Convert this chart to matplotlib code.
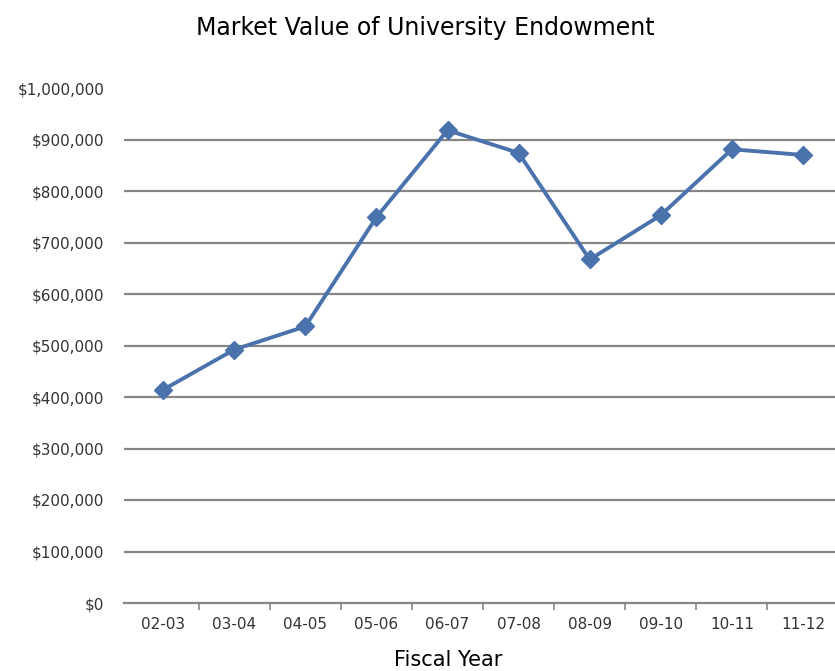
import matplotlib.pyplot as plt
from matplotlib.ticker import FuncFormatter

years = ["02-03", "03-04", "04-05", "05-06", "06-07",
         "07-08", "08-09", "09-10", "10-11", "11-12"]
market_value = [414000, 492000, 537000, 749000, 918000,
                874000, 667000, 753000, 881000, 870000]
y_ticks = list(range(0, 1000001, 100000))

W, H = 835, 671
fig = plt.figure(figsize=(W / 100, H / 100), dpi=100)
ax = fig.add_axes([124 / W, (H - 603) / H, (W - 124) / W, (603 - 88) / H])

for v in y_ticks[1:-1]:
    ax.axhline(v, color="#868686", lw=1.6, zorder=1)

x = list(range(len(years)))
ax.plot(x, market_value, color="#4a72ad", lw=2.8, marker="D", markersize=9.5,
        markerfacecolor="#4a72ad", markeredgecolor="#4a72ad", zorder=3)

ax.set_xlim(-0.55, 9.45)
ax.set_ylim(0, 1000000)
ax.set_yticks(y_ticks)
ax.yaxis.set_major_formatter(FuncFormatter(lambda v, p: f"${v:,.0f}"))
ax.set_xticks(x)
ax.set_xticklabels(years)
ax.set_xticks([i + 0.5 for i in range(len(years) - 1)], minor=True)

for side in ("left", "right", "top"):
    ax.spines[side].set_visible(False)
ax.spines["bottom"].set_color("#868686")
ax.spines["bottom"].set_linewidth(1.6)
ax.tick_params(axis="y", length=0, pad=14, labelsize=11, colors="#333333")
ax.tick_params(axis="x", which="major", length=0, pad=10, labelsize=11,
               colors="#333333")
ax.tick_params(axis="x", which="minor", length=5, width=1.2, color="#868686")

fig.text(425 / W, 1 - 28 / H, "Market Value of University Endowment",
         ha="center", va="center", fontsize=17)
fig.text(448 / W, 1 - 660 / H, "Fiscal Year", ha="center", va="center",
         fontsize=15)

fig.savefig("out.png", dpi=100)
